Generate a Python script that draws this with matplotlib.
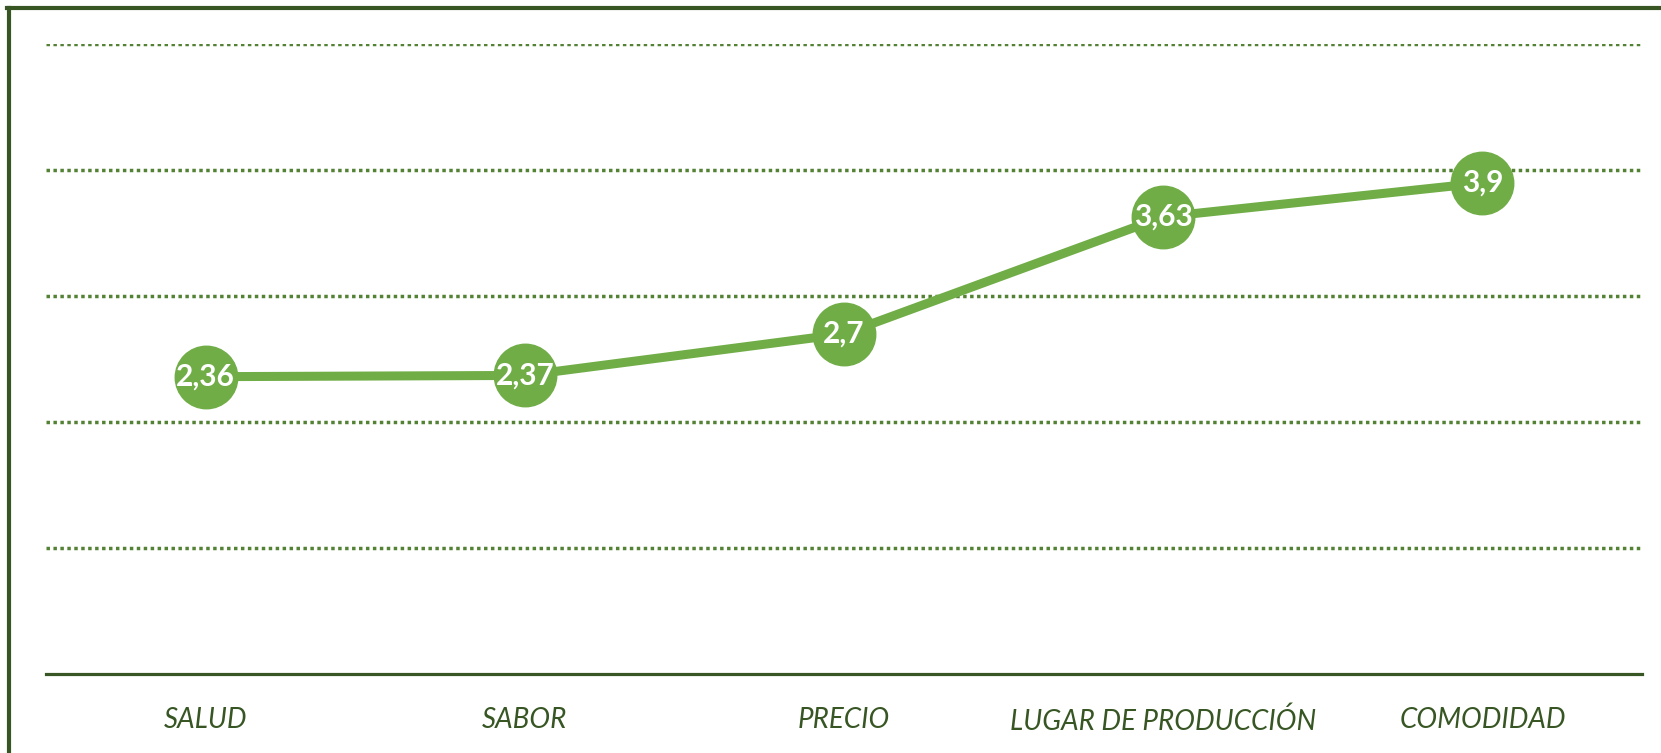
import numpy as np
import matplotlib.pyplot as plt
from matplotlib.lines import Line2D

# Datos del gráfico
categorias = ["SALUD", "SABOR", "PRECIO", "LUGAR DE PRODUCCIÓN", "COMODIDAD"]
valores = [2.36, 2.37, 2.7, 3.63, 3.9]
etiquetas = ["2,36", "2,37", "2,7", "3,63", "3,9"]

verde = "#70AD47"
verde_oscuro = "#375623"
verde_rejilla = "#548235"

fig = plt.figure(figsize=(16.61, 7.53), dpi=100)
ax = fig.add_axes([0.0277, 0.1053, 0.9609, 0.8357])

x = np.arange(len(categorias))
ax.plot(x, valores, color=verde, linewidth=6.5, marker="o", markersize=45,
        markerfacecolor=verde, markeredgecolor=verde, zorder=3)

for xi, v, t in zip(x, valores, etiquetas):
    ax.text(xi, v, t, ha="center", va="center", color="white",
            fontsize=21.5, fontweight="bold", family="Lato", zorder=4)

ax.set_xlim(-0.5, len(categorias) - 0.5)
ax.set_ylim(0, 5)
ax.set_yticks([1, 2, 3, 4, 5])
ax.yaxis.grid(True, linestyle=(0, (1, 1.0)), linewidth=2.5, color=verde_rejilla)
ax.set_axisbelow(True)
ax.tick_params(axis="y", left=False, labelleft=False)

ax.set_xticks(x)
ax.set_xticklabels(categorias, fontsize=20, style="italic", family="Lato",
                   color=verde_oscuro)
ax.tick_params(axis="x", length=0, pad=24)

for lado in ["top", "right", "left"]:
    ax.spines[lado].set_visible(False)
ax.spines["bottom"].set_color(verde_oscuro)
ax.spines["bottom"].set_linewidth(2.3)

# Marco de la figura (solo arriba e izquierda visibles)
fig.add_artist(Line2D([0.0057, 0.0057], [0, 0.99], transform=fig.transFigure,
                      color=verde_oscuro, linewidth=3))
fig.add_artist(Line2D([0.0045, 1], [0.99, 0.99], transform=fig.transFigure,
                      color=verde_oscuro, linewidth=3))

fig.savefig("out.png", dpi=100)
